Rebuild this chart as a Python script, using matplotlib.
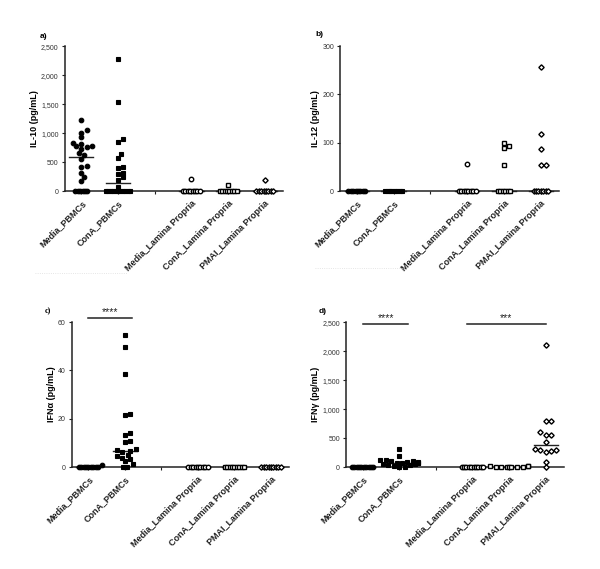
import numpy as np
import matplotlib
matplotlib.use("Agg")
import matplotlib.pyplot as plt
from matplotlib.lines import Line2D

plt.rcParams['font.family'] = ['Liberation Sans', 'DejaVu Sans']

# ---------------- data ----------------
categories = ["Media_PBMCs", "ConA_PBMCs", "Media_Lamina Propria",
              "ConA_Lamina Propria", "PMAI_Lamina Propria"]
positions = [1, 2, 4, 5, 6]

# a) IL-10
il10_media_pbmc = [1225, 1060, 1005, 925, 830, 815, 780, 770, 760, 720, 660, 620,
                   555, 440, 410, 320, 245, 180, 0, 0, 0, 0, 0, 0]
il10_cona_pbmc = [2276, 1540, 897, 851, 649, 575, 420, 408, 316, 293, 236, 190, 75,
                  0, 0, 0, 0, 0, 0, 0, 0, 0, 0, 0]
il10_media_lp = [210, 0, 0, 0, 0, 0, 0, 0, 0]
il10_cona_lp = [110, 0, 0, 0, 0, 0, 0, 0, 0]
il10_pmai_lp = [190, 0, 0, 0, 0, 0, 0, 0, 0]

# b) IL-12
il12_media_pbmc = [0, 0, 0, 0, 0, 0, 0, 0]
il12_cona_pbmc = [0, 0, 0, 0, 0, 0, 0, 0]
il12_media_lp = [57, 0, 0, 0, 0, 0, 0, 0, 0]
il12_cona_lp = [99, 94, 89, 55, 0, 0, 0, 0, 0, 0]
il12_pmai_lp = [256, 118, 87, 55, 54, 0, 0, 0, 0, 0, 0, 0]

# c) IFN-alpha
ifna_media_pbmc = [1.0, 0, 0, 0, 0, 0, 0, 0, 0, 0]
ifna_cona_pbmc = [54.6, 49.8, 38.5, 22.0, 21.5, 14.2, 13.5, 11.0, 10.3, 7.5, 7.0,
                  6.6, 6.2, 5.2, 4.5, 3.9, 3.2, 2.5, 1.1, 0, 0, 0]
ifna_media_lp = [0, 0, 0, 0, 0, 0, 0, 0, 0]
ifna_cona_lp = [0, 0, 0, 0, 0, 0, 0, 0, 0]
ifna_pmai_lp = [0, 0, 0, 0, 0, 0, 0, 0, 0]

# d) IFN-gamma
ifng_media_pbmc = [0, 0, 0, 0, 0, 0, 0, 0, 0, 0]
ifng_cona_pbmc = [320, 195, 130, 120, 110, 100, 90, 85, 80, 75, 70, 65, 60, 50,
                  40, 30, 20, 10, 0]
ifng_media_lp = [0, 0, 0, 0, 0, 0, 0, 0, 0, 0]
ifng_cona_lp = [25, 20, 15, 10, 10, 5, 5, 0, 0, 0]
ifng_pmai_lp = [2100, 803, 791, 608, 562, 550, 430, 321, 304, 287, 275, 264, 86, 0]

panels = [
    dict(label="a)", ylabel="IL-10 (pg/mL)", ymax=2500, yticks=[0, 500, 1000, 1500, 2000, 2500],
         groups=[il10_media_pbmc, il10_cona_pbmc, il10_media_lp, il10_cona_lp, il10_pmai_lp],
         rect=[0.108, 0.664, 0.364, 0.255], sig=[]),
    dict(label="b)", ylabel="IL-12 (pg/mL)", ymax=300, yticks=[0, 100, 200, 300],
         groups=[il12_media_pbmc, il12_cona_pbmc, il12_media_lp, il12_cona_lp, il12_pmai_lp],
         rect=[0.567, 0.664, 0.365, 0.255], sig=[]),
    dict(label="c)", ylabel="IFN\u03b1 (pg/mL)", ymax=60, yticks=[0, 20, 40, 60],
         groups=[ifna_media_pbmc, ifna_cona_pbmc, ifna_media_lp, ifna_cona_lp, ifna_pmai_lp],
         rect=[0.120, 0.179, 0.362, 0.255], sig=[(1.0, 2.2, 61.7, "****")]),
    dict(label="d)", ylabel="IFN\u03b3 (pg/mL)", ymax=2500, yticks=[0, 500, 1000, 1500, 2000, 2500],
         groups=[ifng_media_pbmc, ifng_cona_pbmc, ifng_media_lp, ifng_cona_lp, ifng_pmai_lp],
         rect=[0.577, 0.179, 0.363, 0.255],
         sig=[(1.0, 2.25, 2470, "****"), (3.85, 6.0, 2470, "***")]),
]

markers = ['o', 's', 'o', 's', 'D']
filled = [True, True, False, False, False]
msizes = [3.3, 3.1, 3.2, 3.0, 2.7]
mews = [0.8, 0.8, 1.0, 1.0, 1.0]

W, H, DPI = 6.0, 5.69, 100
fig = plt.figure(figsize=(W, H), dpi=DPI)
XLIM = (0.55, 6.5)


def swarm(vals, pos, ax_w_px, ax_h_px, ymax, diam=5.4, zstep=2.4):
    sx = ax_w_px / (XLIM[1] - XLIM[0])
    sy = ax_h_px / ymax
    vals = np.asarray(vals, dtype=float)
    zeros = vals[vals == 0]
    nz = np.sort(vals[vals != 0])
    xs, ys, placed = [], [], []
    n0 = len(zeros)
    for i in range(n0):
        off = (i - (n0 - 1) / 2) * zstep
        xs.append(pos + off / sx)
        ys.append(0.0)
        placed.append((off, 0.0))
    mind = diam * 0.8
    for v in nz:
        ypx = v * sy
        k = 0
        while True:
            cands = [0.0] if k == 0 else [k * diam * 0.5, -k * diam * 0.5]
            ok = None
            for c in cands:
                if all((c - px) ** 2 + (ypx - py) ** 2 >= mind ** 2 for px, py in placed):
                    ok = c
                    break
            if ok is not None or k > 6:
                if ok is None:
                    ok = cands[0]
                break
            k += 1
        placed.append((ok, ypx))
        xs.append(pos + ok / sx)
        ys.append(v)
    return xs, ys


for p in panels:
    ax = fig.add_axes(p["rect"])
    ax_w_px = p["rect"][2] * W * DPI
    ax_h_px = p["rect"][3] * H * DPI
    ax.set_xlim(*XLIM)
    ax.set_ylim(0, p["ymax"])
    for gi, (vals, pos) in enumerate(zip(p["groups"], positions)):
        xs, ys = swarm(vals, pos, ax_w_px, ax_h_px, p["ymax"])
        med = float(np.median(vals))
        ax.plot([pos - 0.33, pos + 0.33], [med, med], color='#222222', lw=1.0,
                zorder=2, clip_on=False)
        ax.plot(xs, ys, linestyle='none', marker=markers[gi], ms=msizes[gi],
                mfc='black' if filled[gi] else 'white', mec='black',
                mew=mews[gi], clip_on=False, zorder=3)
    for s in ['top', 'right']:
        ax.spines[s].set_visible(False)
    for s in ['left', 'bottom']:
        ax.spines[s].set_linewidth(1.1)
        ax.spines[s].set_color('#222222')
    ax.set_yticks(p["yticks"])
    ax.set_yticklabels([f"{t:,}" for t in p["yticks"]], fontsize=5, color='#333333')
    ax.set_xticks(positions + [3])
    ax.set_xticklabels(categories + [""], rotation=45, ha='right',
                       rotation_mode='anchor', fontsize=6.5, fontweight='bold',
                       color='#222222')
    ax.tick_params(axis='both', length=2.5, width=0.8, pad=2, color='#222222')
    ax.tick_params(axis='x', pad=3)
    ax.set_ylabel(p["ylabel"], fontsize=6.5, fontweight='bold', labelpad=1.5)
    for (x0, x1, yv, txt) in p["sig"]:
        ax.plot([x0, x1], [yv, yv], color='#222222', lw=1.1, clip_on=False)
        ax.text((x0 + x1) / 2, yv + p["ymax"] * 0.005, txt, ha='center', va='bottom',
                fontsize=7.5, color='#222222')

# panel labels
fig.text(40 / 600, 1 - 36 / 569, "a)", fontsize=6, fontweight='bold', va='center')
fig.text(315 / 600, 1 - 35 / 569, "b)", fontsize=6, fontweight='bold', va='center')
fig.text(45 / 600, 1 - 311 / 569, "c)", fontsize=6, fontweight='bold', va='center',
         family=['Liberation Serif'])
fig.text(319 / 600, 1 - 311 / 569, "d)", fontsize=6, fontweight='bold', va='center')

# faint dotted artefact lines
fig.add_artist(Line2D([35 / 600, 127 / 600], [1 - 273 / 569] * 2, color='#dddddd',
                      lw=0.6, ls=':'))
fig.add_artist(Line2D([315 / 600, 402 / 600], [1 - 268 / 569] * 2, color='#dddddd',
                      lw=0.6, ls=':'))

fig.savefig("out.png", dpi=DPI)
